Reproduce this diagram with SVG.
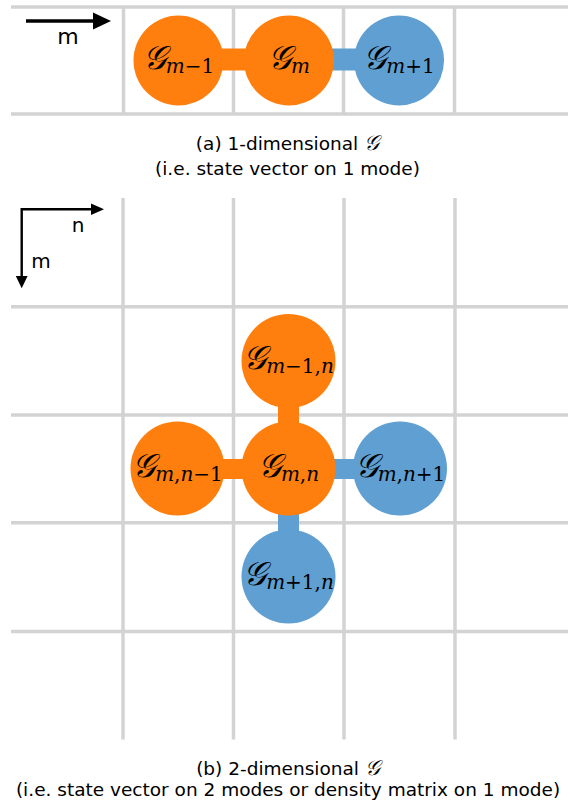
<svg xmlns="http://www.w3.org/2000/svg" width="571" height="803" viewBox="0 0 571 803">
<style>
.grid{stroke:#d3d3d3;stroke-width:3.5;fill:none}
.or{fill:#ff7f0e}
.bl{fill:#5f9fd2}
.lab{font-family:"DejaVu Serif","Liberation Serif",serif;fill:#000;text-anchor:middle}
.G{font-size:33px;font-style:italic}
.s{font-size:20px}
.i{font-style:italic}
.ax{font-family:"DejaVu Sans","Liberation Sans",sans-serif;fill:#000;text-anchor:middle}
.cap{font-family:"DejaVu Sans","Liberation Sans",sans-serif;font-size:18.5px;fill:#000;text-anchor:middle}
.cg{font-family:"DejaVu Serif",serif;font-style:italic;font-size:21px}
.arr{stroke:#000;fill:none}
</style>
<rect width="571" height="803" fill="#fff"/>
<g id="grid-a" class="grid">
<path d="M11,7H568M11,114H568M123.5,7V114M233.5,7V114M343.5,7V114M454.5,7V114"/>
</g>
<g id="axis-a">
<line class="arr" x1="26" y1="21" x2="94" y2="21" stroke-width="3.3"/>
<polygon points="93,12.5 111,21 93,29.5" fill="#000"/>
<text class="ax" x="68" y="44" font-size="22">m</text>
</g>
<g id="connectors-a">
<rect class="or" x="178.5" y="48.5" width="110.5" height="22"/>
<rect class="bl" x="289" y="48.5" width="110" height="22"/>
</g>
<g id="node-a-m-1">
<circle class="or" cx="178.5" cy="60.5" r="45"/>
<text class="lab" x="178.5" y="68.5"><tspan class="G">𝒢</tspan><tspan class="s i" dy="4">m</tspan><tspan class="s">−1</tspan></text>
</g>
<g id="node-a-m">
<circle class="or" cx="289" cy="60.5" r="45"/>
<text class="lab" x="289" y="68.5"><tspan class="G">𝒢</tspan><tspan class="s i" dy="4">m</tspan></text>
</g>
<g id="node-a-m+1">
<circle class="bl" cx="399" cy="60.5" r="45"/>
<text class="lab" x="399" y="68.5"><tspan class="G">𝒢</tspan><tspan class="s i" dy="4">m</tspan><tspan class="s">+1</tspan></text>
</g>
<g id="caption-a">
<text class="cap" x="287.5" y="149.5">(a) 1-dimensional <tspan class="cg">𝒢</tspan></text>
<text class="cap" x="287.5" y="174.5">(i.e. state vector on 1 mode)</text>
</g>
<g id="grid-b" class="grid">
<path d="M11,306.7H568M11,415H568M11,522.7H568M11,631.5H568M123,198V739.5M233.5,198V739.5M344,198V739.5M455,198V739.5"/>
</g>
<g id="axis-b">
<path class="arr" d="M21.7,277V209.3H92" stroke-width="2.4"/>
<polygon points="91,203.6 104,209.3 91,215" fill="#000"/>
<polygon points="15.8,276 21.7,288.3 27.6,276" fill="#000"/>
<text class="ax" x="78" y="231.5" font-size="20">n</text>
<text class="ax" x="41" y="268" font-size="20">m</text>
</g>
<g id="connectors-b">
<rect class="or" x="278" y="361" width="21" height="107.5"/>
<rect class="or" x="177.5" y="459" width="111" height="20"/>
<rect class="bl" x="288.5" y="459" width="111.5" height="20"/>
<rect class="bl" x="278" y="468.5" width="21" height="108"/>
</g>
<g id="node-b-up">
<circle class="or" cx="288.5" cy="361" r="47"/>
<text class="lab" x="288.5" y="369"><tspan class="G">𝒢</tspan><tspan class="s i" dy="4">m</tspan><tspan class="s">−1,</tspan><tspan class="s i">n</tspan></text>
</g>
<g id="node-b-left">
<circle class="or" cx="177.5" cy="468.5" r="47"/>
<text class="lab" x="177.5" y="476.5"><tspan class="G">𝒢</tspan><tspan class="s i" dy="4">m</tspan><tspan class="s">,</tspan><tspan class="s i">n</tspan><tspan class="s">−1</tspan></text>
</g>
<g id="node-b-center">
<circle class="or" cx="288.5" cy="468.5" r="47"/>
<text class="lab" x="288.5" y="476.5"><tspan class="G">𝒢</tspan><tspan class="s i" dy="4">m</tspan><tspan class="s">,</tspan><tspan class="s i">n</tspan></text>
</g>
<g id="node-b-right">
<circle class="bl" cx="400" cy="468.5" r="47"/>
<text class="lab" x="400" y="476.5"><tspan class="G">𝒢</tspan><tspan class="s i" dy="4">m</tspan><tspan class="s">,</tspan><tspan class="s i">n</tspan><tspan class="s">+1</tspan></text>
</g>
<g id="node-b-down">
<circle class="bl" cx="288.5" cy="576.5" r="47"/>
<text class="lab" x="288.5" y="584.5"><tspan class="G">𝒢</tspan><tspan class="s i" dy="4">m</tspan><tspan class="s">+1,</tspan><tspan class="s i">n</tspan></text>
</g>
<g id="caption-b">
<text class="cap" x="288" y="775">(b) 2-dimensional <tspan class="cg">𝒢</tspan></text>
<text class="cap" x="288" y="796">(i.e. state vector on 2 modes or density matrix on 1 mode)</text>
</g>
</svg>
